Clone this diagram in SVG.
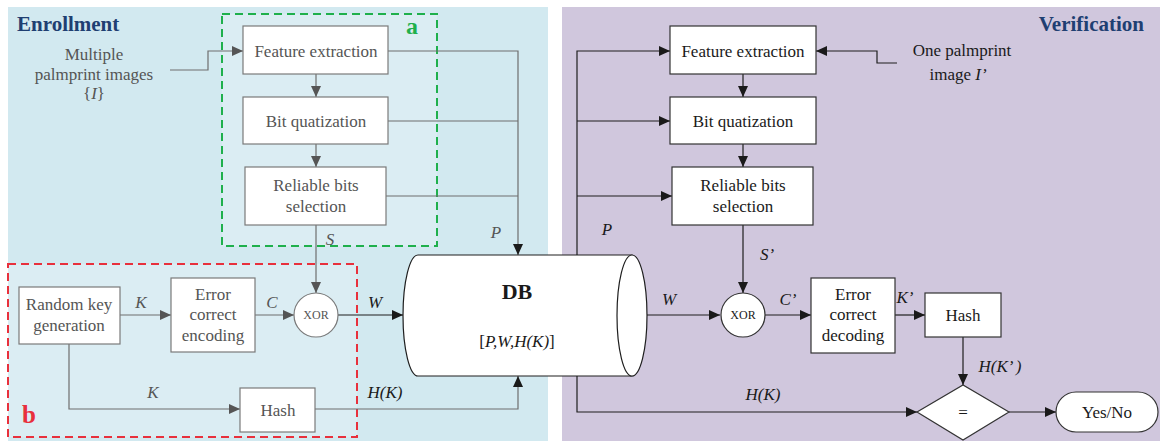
<svg xmlns="http://www.w3.org/2000/svg" width="1160" height="441" viewBox="0 0 1160 441">
<style>
.t{font-family:"Liberation Serif","Times New Roman","DejaVu Serif",serif;font-size:17px;text-anchor:middle}
.eg{fill:#555}
.vb{fill:#1a1a1a}
.it{font-style:italic}
.sm{font-size:12px}
.box{fill:#fff;stroke-width:1.2}
.ebox{stroke:#7a7a7a}
.vbox{stroke:#333}
.ln{fill:none;stroke-width:1.2}
.gl{stroke:#6e6e6e}
.bl{stroke:#1e1e1e}
.title{font-family:"Liberation Serif","Times New Roman","DejaVu Serif",serif;font-size:21px;font-weight:bold;fill:#1f3f72}
.bold{font-family:"Liberation Serif","Times New Roman","DejaVu Serif",serif;font-weight:bold;text-anchor:middle}
</style>
<defs>
<marker id="ag" markerUnits="userSpaceOnUse" markerWidth="11" markerHeight="10" refX="11" refY="5" orient="auto"><path d="M0,0 L11,5 L0,10 z" fill="#555"/></marker>
<marker id="ab" markerUnits="userSpaceOnUse" markerWidth="11" markerHeight="10" refX="11" refY="5" orient="auto"><path d="M0,0 L11,5 L0,10 z" fill="#1a1a1a"/></marker>
</defs>
<rect id="bg-enroll" x="8" y="7" width="540" height="434" fill="#d2e9f0"/>
<rect id="bg-verify" x="562" y="7" width="598" height="434" fill="#d0c7dd"/>
<g id="region-a"><rect x="222" y="14" width="215" height="232" fill="#ffffff" fill-opacity="0.2" stroke="#1fb04c" stroke-width="2" stroke-dasharray="8,5"/><text class="bold" x="412" y="34" font-size="24" fill="#1fb04c">a</text></g>
<g id="region-b"><rect x="8" y="264" width="349" height="173" fill="#ffffff" fill-opacity="0.2" stroke="#e8303c" stroke-width="2" stroke-dasharray="8,5"/><text class="bold" x="29" y="423" font-size="25" fill="#e8303c">b</text></g>
<text class="title" x="17" y="31">Enrollment</text>
<text class="title" x="1144" y="31" text-anchor="end">Verification</text>
<g id="connectors">
<polyline class="ln gl" points="170,70 208,70 208,51 243,51" marker-end="url(#ag)"/>
<line class="ln gl" x1="316" y1="74" x2="316" y2="97" marker-end="url(#ag)"/>
<line class="ln gl" x1="316" y1="144" x2="316" y2="167" marker-end="url(#ag)"/>
<polyline class="ln gl" points="388,51 518,51 518,255" marker-end="url(#ab)"/>
<line class="ln gl" x1="388" y1="121" x2="518" y2="121"/>
<line class="ln gl" x1="386" y1="196" x2="518" y2="196"/>
<line class="ln gl" x1="316" y1="225" x2="316" y2="293" marker-end="url(#ag)"/>
<line class="ln gl" x1="120" y1="315" x2="171" y2="315" marker-end="url(#ag)"/>
<line class="ln gl" x1="255" y1="315" x2="294" y2="315" marker-end="url(#ag)"/>
<line class="ln bl" x1="338" y1="315" x2="403" y2="315" marker-end="url(#ab)"/>
<polyline class="ln gl" points="69,344 69,409 240,409" marker-end="url(#ag)"/>
<polyline class="ln gl" points="315,409 518,409 518,376" marker-end="url(#ab)"/>
<polyline class="ln bl" points="577,255 577,51 670,51" marker-end="url(#ab)"/>
<line class="ln bl" x1="577" y1="121" x2="670" y2="121" marker-end="url(#ab)"/>
<line class="ln bl" x1="577" y1="196" x2="672" y2="196" marker-end="url(#ab)"/>
<polyline class="ln bl" points="897,63 877,63 877,51 816,51" marker-end="url(#ab)"/>
<line class="ln bl" x1="743" y1="74" x2="743" y2="97" marker-end="url(#ab)"/>
<line class="ln bl" x1="743" y1="144" x2="743" y2="167" marker-end="url(#ab)"/>
<line class="ln bl" x1="743" y1="225" x2="743" y2="293" marker-end="url(#ab)"/>
<line class="ln bl" x1="632" y1="315" x2="720" y2="315" marker-end="url(#ab)"/>
<line class="ln bl" x1="765" y1="315" x2="811" y2="315" marker-end="url(#ab)"/>
<line class="ln bl" x1="895" y1="315" x2="925" y2="315" marker-end="url(#ab)"/>
<line class="ln bl" x1="963" y1="337" x2="963" y2="385" marker-end="url(#ab)"/>
<polyline class="ln bl" points="577,376 577,412 917,412" marker-end="url(#ab)"/>
<line class="ln bl" x1="1009" y1="412" x2="1056" y2="412" marker-end="url(#ab)"/>
</g>
<g id="labels">
<text class="t eg" x="94" y="60">Multiple</text>
<text class="t eg" x="94" y="80">palmprint images</text>
<text class="t eg" x="94" y="99">{<tspan class="it">I</tspan>}</text>
<text class="t eg it" x="330" y="245">S</text>
<text class="t eg it" x="496" y="238">P</text>
<text class="t eg it" x="141" y="308">K</text>
<text class="t eg it" x="272" y="308">C</text>
<text class="t vb it" x="375" y="308">W</text>
<text class="t eg it" x="153" y="398">K</text>
<text class="t vb it" x="385" y="398">H(K)</text>
<text class="t vb it" x="607" y="235">P</text>
<text class="t vb" x="962" y="56">One palmprint</text>
<text class="t vb" x="958" y="80">image <tspan class="it">I’</tspan></text>
<text class="t vb it" x="767" y="260">S’</text>
<text class="t vb it" x="669" y="305">W</text>
<text class="t vb it" x="788" y="305">C’</text>
<text class="t vb it" x="905" y="303">K’</text>
<text class="t vb it" x="1000" y="372">H(K’ )</text>
<text class="t vb it" x="763" y="400">H(K)</text>
</g>
<g id="e-feature"><rect class="box ebox" x="243" y="26" width="145" height="48"/><text class="t eg" x="316" y="57">Feature extraction</text></g>
<g id="e-bitq"><rect class="box ebox" x="243" y="97" width="145" height="47"/><text class="t eg" x="316" y="127">Bit quatization</text></g>
<g id="e-reliable"><rect class="box ebox" x="245" y="167" width="141" height="58"/><text class="t eg" x="316" y="191">Reliable bits</text><text class="t eg" x="316" y="212">selection</text></g>
<g id="e-random"><rect class="box ebox" x="19" y="287" width="101" height="57"/><text class="t eg" x="69" y="310">Random key</text><text class="t eg" x="69" y="331">generation</text></g>
<g id="e-ecc"><rect class="box ebox" x="171" y="278" width="84" height="74"/><text class="t eg" x="213" y="300">Error</text><text class="t eg" x="213" y="320">correct</text><text class="t eg" x="213" y="341">encoding</text></g>
<g id="e-xor"><circle cx="316" cy="315" r="22" fill="#fff" stroke="#7a7a7a" stroke-width="1.2"/><text class="t eg sm" x="316" y="319">XOR</text></g>
<g id="e-hash"><rect class="box ebox" x="240" y="388" width="75" height="44"/><text class="t eg" x="278" y="416">Hash</text></g>
<g id="db">
<path d="M418,255 H632 V376 H418 A15,60.5 0 0 1 418,255 Z" fill="#fff" stroke="#1e1e1e" stroke-width="1.2"/>
<ellipse cx="632" cy="315.5" rx="15" ry="60.5" fill="#fff" stroke="#1e1e1e" stroke-width="1.2"/>
<text class="bold" x="517" y="299" font-size="22" fill="#1a1a1a">DB</text>
<text class="t vb" x="517" y="347">[<tspan class="it">P,W,H(K)</tspan>]</text>
</g>
<g id="v-feature"><rect class="box vbox" x="670" y="26" width="146" height="48"/><text class="t vb" x="743" y="57">Feature extraction</text></g>
<g id="v-bitq"><rect class="box vbox" x="670" y="97" width="146" height="47"/><text class="t vb" x="743" y="127">Bit quatization</text></g>
<g id="v-reliable"><rect class="box vbox" x="672" y="167" width="141" height="58"/><text class="t vb" x="743" y="191">Reliable bits</text><text class="t vb" x="743" y="212">selection</text></g>
<g id="v-xor"><circle cx="743" cy="315" r="22" fill="#fff" stroke="#333" stroke-width="1.2"/><text class="t vb sm" x="743" y="319">XOR</text></g>
<g id="v-ecd"><rect class="box vbox" x="811" y="278" width="84" height="75"/><text class="t vb" x="853" y="300">Error</text><text class="t vb" x="853" y="320">correct</text><text class="t vb" x="853" y="341">decoding</text></g>
<g id="v-hash"><rect class="box vbox" x="925" y="293" width="76" height="44"/><text class="t vb" x="963" y="321">Hash</text></g>
<g id="v-compare"><polygon points="917,412 963,385 1009,412 963,440" fill="#fff" stroke="#333" stroke-width="1.2"/><text class="t vb" x="963" y="418">=</text></g>
<g id="v-result"><rect class="box vbox" x="1056" y="392" width="102" height="40" rx="20" ry="20"/><text class="t vb" x="1107" y="418">Yes/No</text></g>
</svg>
